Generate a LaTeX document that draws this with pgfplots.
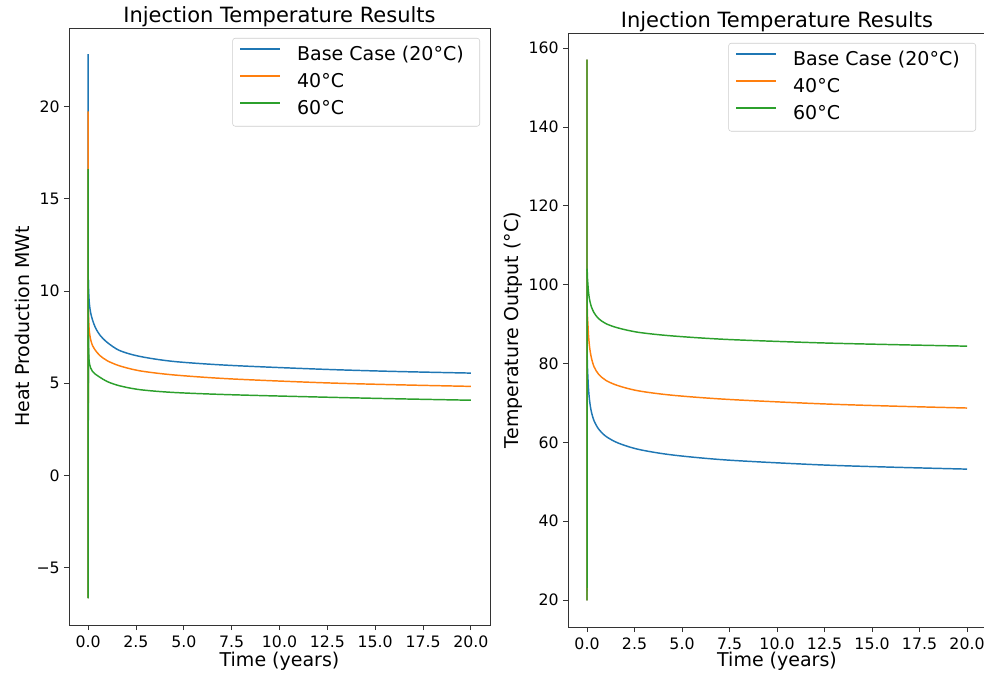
\documentclass[border=0pt]{standalone}
\usepackage{fontspec}
\setmainfont{DejaVu Sans}
\usepackage{pgfplots}
\pgfplotsset{compat=1.18}
\definecolor{tabblue}{HTML}{1F77B4}
\definecolor{taborange}{HTML}{FF7F0E}
\definecolor{tabgreen}{HTML}{2CA02C}
\pgfplotsset{
  refstyle/.style={
    scale only axis,
    axis line style={black!80, line width=0.6pt},
    tick align=outside,
    tick pos=left,
    major tick length=3.75pt,
    tick style={black!80, line width=0.6pt},
    tick label style={font=\fontsize{11.8}{13}\selectfont, inner sep=0pt},
    xticklabel style={anchor=north, yshift=-4.5pt},
    yticklabel style={anchor=east, xshift=-3pt},
    label style={font=\fontsize{14.25}{16}\selectfont},
    title style={font=\fontsize{15.75}{18}\selectfont, at={(0.5,1)}, anchor=base, yshift=-2.25pt},
    title={Injection Temperature Results},
    xlabel={Time (years)},
    xmin=-1, xmax=21,
    xtick={0,2.5,5,7.5,10,12.5,15,17.5,20},
    xticklabels={0.0,2.5,5.0,7.5,10.0,12.5,15.0,17.5,20.0},
    legend cell align=left,
    legend image code/.code={\draw[##1, line width=1.4pt] (0pt,4.6pt) -- (30pt,4.6pt);},
    legend style={at={(1,1)}, anchor=north east, xshift=-7.5pt, yshift=-7.5pt,
      draw=black!20, rounded corners=2pt, fill=white,
      font=\fontsize{14.25}{16}\selectfont,
      inner xsep=5pt, inner ysep=6pt, row sep=6.75pt,
      nodes={inner sep=0pt, text height=10.5pt, text depth=3pt},
      /tikz/every odd column/.append style={column sep=12pt}},
    every axis plot/.append style={line width=1.1pt, line join=round},
  }
}
\begin{document}
\begin{tikzpicture}
\useasboundingbox (0,0) rectangle (738pt,505.5pt);
\begin{axis}[refstyle,
  at={(51.75pt,36.75pt)}, anchor=south west,
  width=315.75pt, height=447.75pt,
  ymin=-8.1, ymax=24.25,
  ytick={-5,0,5,10,15,20},
  yticklabels={−5,0,5,10,15,20},
  ylabel={Heat Production MWt},
  ylabel style={at={(axis description cs:-0.111,0.5)}, anchor=center},
  xlabel style={at={(axis description cs:0.5,0)}, anchor=center, yshift=-27pt},
]
\addplot[tabblue, forget plot] coordinates {(0,22.84)(0,-6.63)(0.01,10.6)};
\addplot[tabblue, smooth, tension=0.5] coordinates {(0.01,10.6)(0.02,10.1)(0.05,9.5)(0.082,9.15)(0.135,8.8)(0.223,8.45)(0.368,8.04)(0.607,7.62)(1,7.21)(1.65,6.77)(2.72,6.45)(4.48,6.18)(7.39,5.97)(12.18,5.76)(16,5.64)(20,5.55)};
\addlegendentry{Base Case (20°C)\hspace*{7pt}}
\addplot[taborange, forget plot] coordinates {(0,19.73)(0,-6.63)(0.01,9.0)};
\addplot[taborange, smooth, tension=0.5] coordinates {(0.01,9.0)(0.02,8.55)(0.05,7.95)(0.082,7.65)(0.135,7.35)(0.223,7.06)(0.368,6.80)(0.607,6.51)(1,6.22)(1.65,5.94)(2.72,5.67)(4.48,5.45)(7.39,5.24)(12.18,5.03)(16,4.92)(20,4.83)};
\addlegendentry{40°C}
\addplot[tabgreen, forget plot] coordinates {(0,16.6)(0,-6.63)(0.01,7.6)};
\addplot[tabgreen, smooth, tension=0.5] coordinates {(0.01,7.6)(0.02,6.9)(0.05,6.2)(0.082,6.0)(0.135,5.82)(0.223,5.65)(0.368,5.50)(0.607,5.33)(1,5.09)(1.65,4.86)(2.72,4.65)(4.48,4.50)(7.39,4.38)(12.18,4.25)(16,4.16)(20,4.08)};
\addlegendentry{60°C}
\end{axis}
\begin{axis}[refstyle,
  at={(426pt,35.25pt)}, anchor=south west,
  width=313.5pt, height=445.5pt,
  ymin=13.14, ymax=163.86,
  ytick={20,40,60,80,100,120,140,160},
  yticklabels={20,40,60,80,100,120,140,160},
  ylabel={Temperature Output (°C)},
  ylabel style={at={(axis description cs:-0.1316,0.5)}, anchor=center},
  xlabel style={at={(axis description cs:0.5,0)}, anchor=center, yshift=-25.5pt},
]
\addplot[tabblue, forget plot] coordinates {(0,157.1)(0,20)(0.01,82)};
\addplot[tabblue, smooth, tension=0.5] coordinates {(0.01,82)(0.02,79.5)(0.05,76.2)(0.082,73.4)(0.135,70.6)(0.223,67.9)(0.368,65.5)(0.607,63.4)(1,61.5)(1.65,59.8)(2.72,58.2)(4.48,56.8)(7.39,55.5)(12.18,54.3)(16,53.7)(20,53.2)};
\addlegendentry{Base Case (20°C)\hspace*{7pt}}
\addplot[taborange, forget plot] coordinates {(0,157.1)(0,20)(0.01,95)};
\addplot[taborange, smooth, tension=0.5] coordinates {(0.01,95)(0.02,92.5)(0.05,89.8)(0.082,87)(0.135,84.2)(0.223,81.6)(0.368,79.2)(0.607,77.3)(1,75.7)(1.65,74.35)(2.72,73.05)(4.48,71.95)(7.39,70.9)(12.18,69.8)(16,69.2)(20,68.7)};
\addlegendentry{40°C}
\addplot[tabgreen, forget plot] coordinates {(0,157.1)(0,20)(0.01,104)};
\addplot[tabgreen, smooth, tension=0.5] coordinates {(0.01,104)(0.02,102)(0.05,99.9)(0.082,98)(0.135,96.2)(0.223,94.5)(0.368,92.9)(0.607,91.4)(1,90.1)(1.65,89.0)(2.72,87.9)(4.48,87.0)(7.39,86.1)(12.18,85.25)(16,84.8)(20,84.4)};
\addlegendentry{60°C}
\end{axis}
\end{tikzpicture}
\end{document}
